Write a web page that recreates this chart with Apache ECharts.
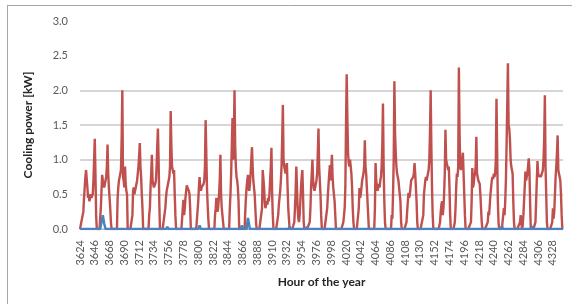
<!DOCTYPE html>
<html>
<head>
<meta charset="utf-8">
<script src="https://cdn.jsdelivr.net/npm/echarts@6/dist/echarts.min.js"></script>
<style>
  html, body { margin: 0; padding: 0; background: #fff; }
  #chart { width: 572px; height: 304px; }
</style>
</head>
<body>
<div id="chart"></div>
<script>
// hour of the year on the x axis, one category per hour
const firstHour = 3624
const hourCount = 720
const yTicks = [0, 0.5, 1.0, 1.5, 2.0, 2.5, 3.0]

// red series: cooling power [kW], one row of 24 hourly values per day
const coolingDays = [
  [0, 0, 0, 0, 0.2, 0.25, 0.45, 0.6, 0.75, 0.85, 0.85, 0.6, 0.45, 0.5, 0.4, 0.45, 0.5, 0.45, 0.45, 0.5, 0.7, 1.0, 1.3, 0.8],
  [0.2, 0, 0, 0, 0, 0, 0, 0.3, 0.55, 0.78, 0.7, 0.65, 0.6, 0.65, 0.7, 0.75, 0.9, 1.22, 0.8, 0.6, 0.45, 0.3, 0.1, 0],
  [0, 0, 0, 0, 0, 0, 0, 0, 0.45, 0.6, 0.7, 0.75, 0.8, 0.85, 1.3, 2.0, 0.75, 0.7, 0.6, 0.9, 0.65, 0.55, 0.5, 0],
  [0, 0, 0, 0, 0, 0, 0.2, 0.55, 0.6, 0.5, 0.55, 0.6, 0.65, 0.7, 0.8, 0.9, 1.05, 1.24, 0.9, 0.75, 0.5, 0.3, 0, 0],
  [0, 0, 0, 0, 0, 0, 0, 0.2, 0.3, 0.6, 0.8, 1.07, 0.7, 0.65, 0.6, 0.62, 0.65, 0.7, 0.9, 1.2, 1.45, 1.0, 0.4, 0],
  [0, 0, 0, 0, 0, 0, 0, 0.3, 0.45, 0.55, 0.6, 0.65, 0.7, 0.75, 0.9, 1.7, 1.2, 0.9, 0.85, 0.8, 0.85, 0.5, 0.2, 0],
  [0, 0, 0, 0, 0, 0, 0, 0, 0.15, 0.3, 0.42, 0.2, 0.3, 0.45, 0.55, 0.63, 0.6, 0.58, 0.55, 0.5, 0.3, 0, 0, 0],
  [0, 0, 0, 0, 0, 0, 0, 0, 0.4, 0.6, 0.75, 0.6, 0.55, 0.6, 0.62, 0.6, 0.65, 0.7, 0.9, 1.57, 1.1, 0.6, 0.35, 0.15],
  [0, 0, 0, 0, 0, 0, 0, 0, 0, 0.2, 0.3, 0.45, 0.3, 0.25, 0.35, 0.5, 0.7, 1.07, 0.5, 0.3, 0.2, 0.1, 0, 0],
  [0, 0, 0, 0, 0, 0, 0, 0.3, 0.5, 0.8, 1.2, 1.6, 1.0, 1.3, 2.0, 1.2, 0.9, 0.75, 0.7, 0.6, 0.4, 0, 0, 0],
  [0, 0, 0, 0, 0, 0, 0.25, 0.45, 0.6, 0.7, 0.78, 0.6, 0.55, 0.65, 0.8, 1.0, 1.18, 0.9, 0.7, 0.6, 0.5, 0.3, 0.1, 0],
  [0, 0, 0, 0, 0, 0, 0, 0.3, 0.85, 0.83, 0.6, 0.4, 0.3, 0.35, 0.4, 0.35, 0.45, 0.4, 0.5, 0.7, 0.9, 1.17, 0.5, 0.2],
  [0, 0, 0, 0, 0, 0, 0, 0.2, 0.35, 0.45, 0.55, 0.7, 0.9, 1.3, 1.79, 1.0, 0.9, 0.85, 0.8, 0.9, 0.95, 0.6, 0.3, 0.15],
  [0, 0, 0, 0, 0, 0, 0, 0.1, 0.3, 0.55, 0.9, 0.6, 0.3, 0.15, 0.1, 0.2, 0.4, 0.6, 0.75, 0.85, 0.5, 0.1, 0, 0],
  [0, 0, 0, 0, 0, 0, 0.1, 0.3, 0.6, 0.8, 1.0, 0.7, 0.6, 0.55, 0.6, 0.65, 0.7, 0.8, 1.1, 1.45, 0.9, 0.7, 0.5, 0.2],
  [0, 0, 0, 0, 0, 0, 0, 0, 0.3, 0.5, 0.65, 0.8, 0.92, 0.7, 0.85, 1.07, 0.75, 0.6, 0.5, 0.4, 0.2, 0, 0, 0],
  [0, 0, 0, 0, 0, 0, 0, 0, 0.1, 0.2, 0.3, 0.6, 1.5, 2.23, 1.6, 1.1, 0.95, 0.9, 1.0, 1.02, 0.8, 0.6, 0.3, 0.1],
  [0, 0, 0, 0, 0, 0, 0, 0.3, 0.59, 0.45, 0.5, 0.6, 0.7, 0.75, 0.8, 0.9, 1.28, 0.9, 0.8, 0.6, 0.4, 0.2, 0, 0],
  [0, 0, 0, 0, 0, 0, 0, 0.3, 0.95, 0.7, 0.6, 0.55, 0.6, 0.65, 0.6, 0.7, 0.75, 0.9, 1.2, 1.81, 0.9, 0.4, 0.1, 0],
  [0, 0, 0, 0, 0, 0, 0, 0, 0.2, 0.15, 0.5, 1.0, 2.13, 1.38, 1.1, 0.9, 0.8, 0.75, 0.7, 0.72, 0.7, 0.4, 0.1, 0],
  [0, 0, 0, 0, 0, 0, 0.1, 0.25, 0.4, 0.52, 0.45, 0.5, 0.6, 0.7, 0.72, 0.7, 0.75, 0.8, 0.95, 0.8, 0.6, 0.4, 0.1, 0],
  [0, 0, 0, 0, 0, 0, 0, 0.2, 0.5, 0.6, 0.7, 0.75, 0.7, 0.75, 0.8, 0.85, 1.0, 1.4, 2.0, 1.2, 0.6, 0.2, 0, 0],
  [0, 0, 0, 0, 0, 0, 0, 0, 0.1, 0.25, 0.35, 0.4, 0.2, 0.3, 0.5, 0.8, 1.43, 1.0, 0.95, 0.9, 0.85, 0.9, 0.6, 0.2],
  [0, 0, 0, 0, 0, 0, 0.1, 0.3, 0.6, 0.8, 0.75, 0.9, 2.33, 1.4, 0.9, 0.85, 0.9, 1.0, 1.1, 0.8, 0.5, 0.2, 0, 0],
  [0, 0, 0, 0, 0, 0, 0.1, 0.4, 0.88, 0.6, 0.65, 0.75, 0.8, 0.9, 1.33, 0.8, 0.75, 0.7, 0.72, 0.65, 0.5, 0.3, 0.1, 0],
  [0, 0, 0, 0, 0, 0, 0, 0.1, 0.25, 0.2, 0.35, 0.5, 0.6, 0.7, 0.75, 0.72, 0.8, 0.75, 0.8, 1.0, 1.88, 1.1, 0.4, 0.1],
  [0, 0, 0, 0, 0, 0, 0, 0.3, 0.2, 0.4, 0.7, 1.2, 1.8, 2.39, 1.5, 1.45, 1.3, 1.0, 0.9, 0.85, 0.8, 0.4, 0.1, 0],
  [0, 0, 0, 0, 0, 0, 0, 0.1, 0.2, 0.1, 0, 0.05, 0.2, 0.4, 0.6, 0.83, 0.7, 0.75, 0.8, 0.9, 1.02, 0.85, 0.4, 0],
  [0, 0, 0, 0, 0, 0, 0.1, 0.4, 0.7, 0.98, 0.8, 0.75, 0.78, 0.8, 0.75, 0.78, 0.8, 0.85, 1.0, 1.3, 1.93, 0.9, 0.5, 0.1],
  [0, 0, 0, 0, 0, 0, 0, 0.1, 0.3, 0.15, 0.25, 0.5, 0.75, 0.9, 1.1, 1.35, 0.85, 0.8, 0.75, 0.7, 0.5, 0.2, 0, 0]
]

// blue series: [hour index, kW] - flat at zero apart from a few small bumps
const bluePoints = [
  [0, 0], [30, 0], [32, 0.1], [34, 0.2], [36, 0.08], [38, 0],
  [128, 0], [130, 0.03], [132, 0],
  [176, 0], [178, 0.05], [180, 0],
  [239, 0], [241, 0.05], [243, 0], [248, 0], [250, 0.16], [252, 0.05], [253, 0],
  [310, 0], [312, 0.03], [314, 0], [336, 0], [338, 0.03], [340, 0],
  [626, 0], [628, 0.04], [630, 0], [671, 0], [673, 0.04], [675, 0],
  [719, 0]
]

const hours = []
for (let i = 0; i < hourCount; i++) hours.push(String(firstHour + i))
const cooling = [].concat(...coolingDays)

const chart = echarts.init(document.getElementById('chart'))
chart.setOption({
  animation: false,
  backgroundColor: '#fff',
  textStyle: { fontFamily: 'Lato' },
  // outer chart frame (only top and left edges are in the picture)
  graphic: [
    { type: 'line', shape: { x1: 7, y1: 5.5, x2: 572, y2: 5.5 }, style: { stroke: '#a6a6a6', lineWidth: 1 } },
    { type: 'line', shape: { x1: 7.5, y1: 5, x2: 7.5, y2: 304 }, style: { stroke: '#a6a6a6', lineWidth: 1 } }
  ],
  grid: { left: 80, right: 9, top: 21, bottom: 75, containLabel: false },
  xAxis: {
    type: 'category',
    boundaryGap: false,
    data: hours,
    name: 'Hour of the year',
    nameLocation: 'middle',
    nameGap: 47,
    nameTextStyle: { fontSize: 12, fontWeight: 'bold', color: '#262626', fontFamily: 'Lato' },
    axisLine: { lineStyle: { color: '#bfbfbf' } },
    axisTick: { show: false },
    axisLabel: { interval: 21, rotate: 90, margin: 11, fontSize: 11, color: '#595959', fontFamily: 'Lato' }
  },
  yAxis: {
    type: 'value',
    min: 0,
    max: 3,
    interval: 0.5,
    name: 'Cooling power [kW]',
    nameLocation: 'middle',
    nameRotate: 90,
    nameGap: 46,
    nameTextStyle: { fontSize: 12, fontWeight: 'bold', color: '#262626', fontFamily: 'Lato' },
    axisLine: { show: false },
    axisTick: { show: false },
    axisLabel: {
      margin: 12,
      fontSize: 11,
      color: '#595959',
      formatter: v => v.toFixed(1)
    },
    splitLine: {
      lineStyle: {
        color: ['#bfbfbf', '#c8c8c8', '#c8c8c8', '#c8c8c8', '#c8c8c8', 'rgba(0,0,0,0)', 'rgba(0,0,0,0)'],
        width: 1.5
      }
    }
  },
  series: [{
    name: 'red',
    type: 'line',
    data: cooling,
    symbol: 'none',
    lineStyle: { color: '#c0504d', width: 2.4 },
    z: 2
  }, {
    name: 'blue',
    type: 'line',
    data: bluePoints,
    symbol: 'none',
    lineStyle: { color: '#4f81bd', width: 2.5 },
    z: 3
  }]
})
</script>
</body>
</html>
